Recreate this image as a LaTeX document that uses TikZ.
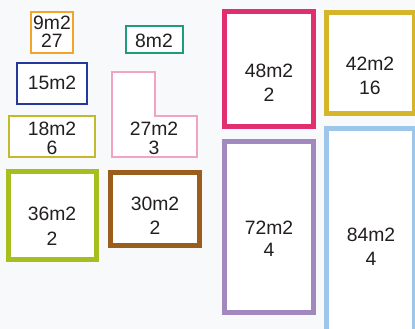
\documentclass[tikz,border=0pt]{standalone}
\usepackage{fontspec}
\setmainfont{Liberation Sans}
\definecolor{bgc}{HTML}{F8F9FB}
\definecolor{txt}{HTML}{231F20}
\definecolor{corange}{HTML}{F5A42A}
\definecolor{cteal}{HTML}{1E9C7B}
\definecolor{cnavy}{HTML}{24399A}
\definecolor{colive}{HTML}{C2BA2C}
\definecolor{cpinkl}{HTML}{F2A3C3}
\definecolor{clime}{HTML}{A6BE1E}
\definecolor{cbrown}{HTML}{9B5D1B}
\definecolor{cmag}{HTML}{E12E6E}
\definecolor{cgold}{HTML}{D5B62B}
\definecolor{cpurp}{HTML}{A189BF}
\definecolor{clblue}{HTML}{9DC7EA}
\tikzset{
  thinroom/.style={draw=#1, fill=white, line width=1.5pt, line join=miter},
  thickroom/.style={draw=#1, fill=white, line width=3.75pt, line join=miter},
  lbl/.style={anchor=base, inner sep=0pt, text=txt, font=\fontsize{14.5}{17}\selectfont},
}
\begin{document}
\begin{tikzpicture}[x=0.75pt, y=-0.75pt]
\fill[bgc] (0,0) rectangle (415,329);
\useasboundingbox (0,0) rectangle (415,329);
\begin{scope}
\clip (0,0) rectangle (415,329);
% thin rooms
\path[thinroom=corange] (31,12) rectangle (73,53);
\path[thinroom=cteal] (126,26) rectangle (183,53);
\path[thinroom=cnavy] (17,63) rectangle (87,104);
\path[thinroom=colive] (9,116) rectangle (95,157);
\path[thinroom=cpinkl] (112,72) -- (155,72) -- (155,116) -- (197,116) -- (197,157) -- (112,157) -- cycle;
% thick rooms
\path[thickroom=clime] (8.5,171.5) rectangle (96.5,259.5);
\path[thickroom=cbrown] (110.5,172.5) rectangle (199.5,245.5);
\path[thickroom=cmag] (224.5,11.5) rectangle (313.5,126.5);
\path[thickroom=cgold] (326.5,12.5) rectangle (414.5,113.5);
\path[thickroom=cpurp] (224.5,141.5) rectangle (313.5,312.5);
\path[thickroom=clblue] (326.5,128.5) rectangle (414.5,370);
\end{scope}
% labels (baselines)
\node[lbl] (t9a) at (52,29) {9m2};
\node[lbl] (t9b) at (52,47) {27};
\node[lbl] (t8a) at (154,47) {8m2};
\node[lbl] (t15a) at (52,89) {15m2};
\node[lbl] (t18a) at (52,135) {18m2};
\node[lbl] (t18b) at (52,154) {6};
\node[lbl] (t27a) at (154,135) {27m2};
\node[lbl] (t27b) at (154,154) {3};
\node[lbl] (t36a) at (52,220) {36m2};
\node[lbl] (t36b) at (52,245) {2};
\node[lbl] (t30a) at (155,210) {30m2};
\node[lbl] (t30b) at (155,234) {2};
\node[lbl] (t48a) at (269,77) {48m2};
\node[lbl] (t48b) at (269,101) {2};
\node[lbl] (t42a) at (370,70) {42m2};
\node[lbl] (t42b) at (370,94) {16};
\node[lbl] (t72a) at (269,234) {72m2};
\node[lbl] (t72b) at (269,256) {4};
\node[lbl] (t84a) at (371,241) {84m2};
\node[lbl] (t84b) at (371,265) {4};
\end{tikzpicture}
\end{document}
